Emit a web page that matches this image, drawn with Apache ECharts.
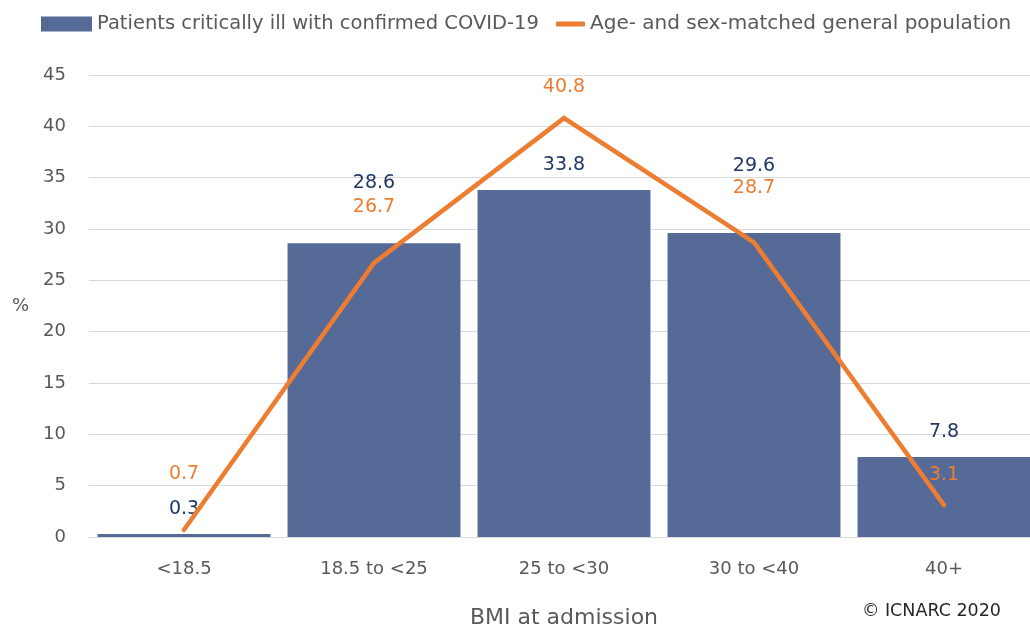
<!DOCTYPE html>
<html>
<head>
<meta charset="utf-8">
<script src="https://cdn.jsdelivr.net/npm/echarts@6/dist/echarts.min.js"></script>
<style>
  html, body { margin: 0; padding: 0; background: #fff; }
  #chart { width: 1030px; height: 629px; }
</style>
</head>
<body>
<div id="chart"></div>
<script>
// BMI groups and the two series (%)
const categories = ['<18.5', '18.5 to <25', '25 to <30', '30 to <40', '40+']
const covidPatients = [0.3, 28.6, 33.8, 29.6, 7.8]
const generalPopulation = [0.7, 26.7, 40.8, 28.7, 3.1]
const yTicks = [0, 5, 10, 15, 20, 25, 30, 35, 40, 45]

// label gaps so the two sets of numbers don't overlap
const barLabelGap = [15, 51, 15, 58, 15]
const lineLabelGap = [46, 46, 22, 45, 21]

const FONT = 'DejaVu Sans'
const GREY = '#595959'
const BAR_COLOR = '#556A96'
const LINE_COLOR = '#ED7D31'

const chart = echarts.init(document.getElementById('chart'))

const option = {
  animation: false,
  textStyle: { fontFamily: FONT },
  legend: [
    {
      data: ['Patients critically ill with confirmed COVID-19'],
      left: 36,
      top: 9,
      itemWidth: 51,
      itemHeight: 15,
      icon: 'rect',
      textStyle: { color: GREY, fontSize: 19.5, fontFamily: FONT }
    },
    {
      data: ['Age- and sex-matched general population'],
      left: 551,
      top: 9,
      itemWidth: 29,
      itemHeight: 5,
      icon: 'roundRect',
      textStyle: { color: GREY, fontSize: 20, fontFamily: FONT }
    }
  ],
  grid: { left: 89, width: 950, top: 75, bottom: 92, outerBoundsMode: 'none' },
  xAxis: {
    type: 'category',
    data: categories,
    name: 'BMI at admission',
    nameLocation: 'middle',
    nameGap: 70,
    nameTextStyle: { color: GREY, fontSize: 22, fontFamily: FONT },
    axisLine: { lineStyle: { color: '#D9D9D9', width: 1 } },
    axisTick: { show: false },
    axisLabel: { color: GREY, fontSize: 18, margin: 23 }
  },
  yAxis: {
    type: 'value',
    min: yTicks[0],
    max: yTicks[yTicks.length - 1],
    interval: 5,
    name: '%',
    nameLocation: 'middle',
    nameRotate: 0,
    nameGap: 60,
    nameTextStyle: { color: GREY, fontSize: 18, fontFamily: FONT, padding: [8, 0, 0, 0] },
    axisLine: { show: false },
    axisTick: { show: false },
    axisLabel: { color: GREY, fontSize: 18, margin: 23 },
    splitLine: { lineStyle: { color: '#D9D9D9', width: 1 } }
  },
  series: [
    {
      name: 'Patients critically ill with confirmed COVID-19',
      type: 'bar',
      barCategoryGap: '9%',
      itemStyle: { color: BAR_COLOR },
      data: covidPatients.map((v, i) => ({
        value: v,
        label: { distance: barLabelGap[i] }
      })),
      label: {
        show: true,
        position: 'top',
        color: '#203864',
        fontSize: 19,
        fontFamily: FONT
      },
      z: 2
    },
    {
      name: 'Age- and sex-matched general population',
      type: 'line',
      symbol: 'circle',
      symbolSize: 0,
      lineStyle: { color: LINE_COLOR, width: 4.5, cap: 'round', join: 'miter' },
      itemStyle: { color: LINE_COLOR },
      data: generalPopulation.map((v, i) => ({
        value: v,
        label: { distance: lineLabelGap[i] }
      })),
      label: {
        show: true,
        position: 'top',
        color: LINE_COLOR,
        fontSize: 19,
        fontFamily: FONT
      },
      z: 3
    }
  ],
  graphic: [
    {
      type: 'text',
      right: 29,
      top: 602,
      style: {
        text: '\u00A9 ICNARC 2020',
        fill: '#262626',
        font: '17.5px "' + FONT + '"'
      }
    }
  ]
}

chart.setOption(option)
</script>
</body>
</html>
